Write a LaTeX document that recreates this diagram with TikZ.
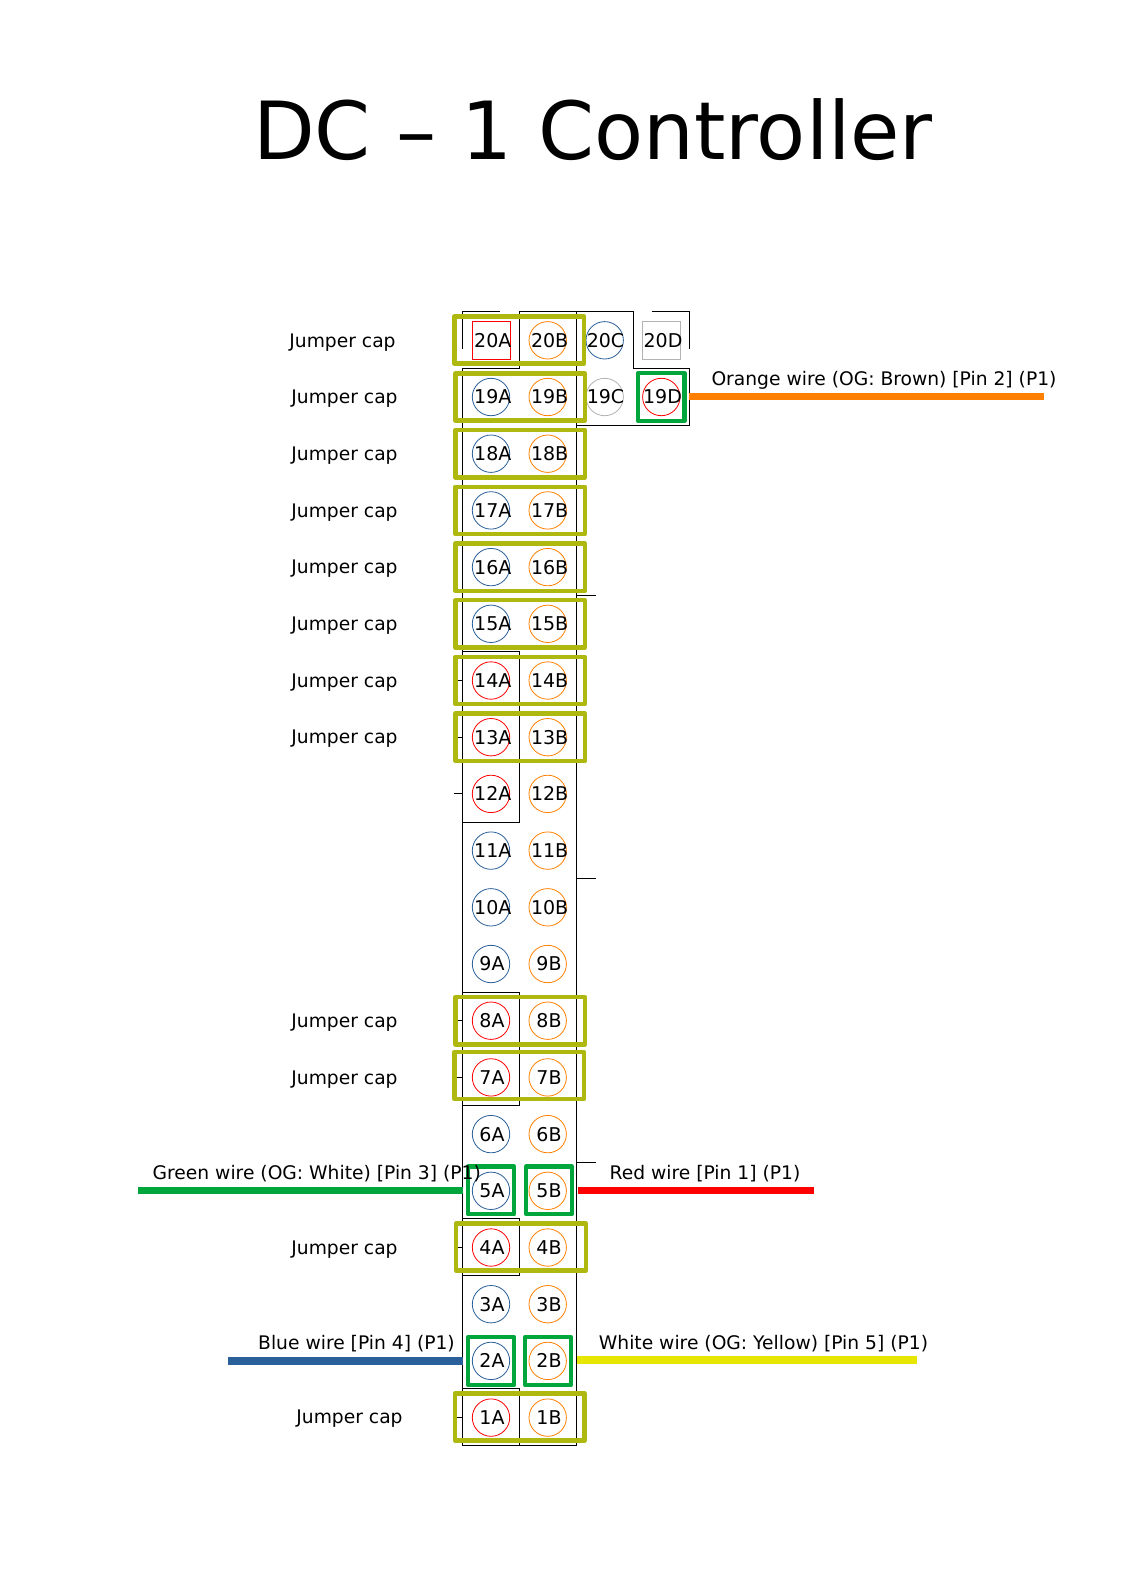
\documentclass[tikz,border=0pt]{standalone}
\usepackage{fontspec}
\setmainfont{DejaVu Sans}
\definecolor{pblue}{HTML}{2A6099}
\definecolor{porange}{HTML}{FF8000}
\definecolor{pred}{HTML}{FF0000}
\definecolor{pgray}{HTML}{B3B3B3}
\definecolor{capcol}{HTML}{AEB80F}
\definecolor{conncol}{HTML}{00A53C}
\definecolor{wyellow}{HTML}{E6E600}
\begin{document}
\begin{tikzpicture}[x=1pt,y=-1pt,
  outline/.style={draw=black,line width=0.9pt},
  pinc/.style={circle,draw=#1,line width=0.8pt,minimum size=37.4pt,inner sep=0pt,outer sep=0pt},
  pins/.style={rectangle,draw=#1,line width=0.8pt,minimum size=38pt,inner sep=0pt,outer sep=0pt},
  pintext/.style={font=\fontsize{19}{19}\selectfont,inner sep=0pt,text=black},
  capbox/.style={rectangle,draw=capcol,line width=4.4pt,line join=round,inner sep=0pt,outer sep=0pt,minimum width=#1,minimum height=47.2pt},
  connbox/.style={rectangle,draw=conncol,line width=4.4pt,line join=round,inner sep=0pt,outer sep=0pt,minimum width=#1,minimum height=47.6pt},
  wire/.style={draw=#1,line width=7.5pt},
  lab/.style={font=\fontsize{18.7}{19}\selectfont,inner sep=0pt,anchor=base,text=black}
]
\useasboundingbox (0,0) rectangle (1123,1587);
\fill[white] (0,0) rectangle (1123,1587);

\node[font=\fontsize{80.2}{84}\selectfont,inner sep=0pt,anchor=base] (title) at (593,159) {DC – 1 Controller};

% outlines
\draw[outline] (500,311.3) -- (462.3,311.3) -- (462.3,349);
\draw[outline] (651.7,311.3) -- (689.3,311.3) -- (689.3,349);
\draw[outline] (462.3,1445) -- (462.3,368.3) -- (519.3,368.3) -- (519.3,311.3) -- (633.3,311.3) -- (633.3,368.3) -- (689.3,368.3) -- (689.3,425) -- (576.7,425);
\draw[outline] (576.7,311.3) -- (576.7,1445) -- (462.3,1445);
\draw[outline] (462.3,651.3) -- (519.3,651.3) -- (519.3,822) -- (462.3,822);
\draw[outline] (462.3,992.3) -- (519.3,992.3) -- (519.3,1105) -- (462.3,1105);
\draw[outline] (462.3,1218) -- (519.3,1218) -- (519.3,1275) -- (462.3,1275);
\draw[outline] (462.3,1388) -- (519.3,1388) -- (519.3,1445);
% ticks
\draw[outline] (576.7,595) -- (595.5,595);
\draw[outline] (576.7,878) -- (595.5,878);
\draw[outline] (576.7,1162) -- (595.5,1162);
\draw[outline] (456,680) -- (462.3,680);
\draw[outline] (456,737) -- (462.3,737);
\draw[outline] (453.5,793.5) -- (462.3,793.5);
\draw[outline] (456,1020) -- (462.3,1020);
\draw[outline] (456,1077) -- (462.3,1077);
\draw[outline] (453.5,1247) -- (462.3,1247);
\draw[outline] (456,1417) -- (462.3,1417);

% pins, column B (all orange)
\foreach \n in {1,...,20}{
  \pgfmathsetmacro{\yy}{340.3+(20-\n)*56.7}
  \node[pinc=porange] (p\n B) at (547.7,\yy) {};
}
% pins, column A
\foreach \n/\c in {19/pblue,18/pblue,17/pblue,16/pblue,15/pblue,14/pred,13/pred,12/pred,11/pblue,10/pblue,9/pblue,8/pred,7/pred,6/pblue,5/pblue,4/pred,3/pblue,2/pblue,1/pred}{
  \pgfmathsetmacro{\yy}{340.3+(20-\n)*56.7}
  \node[pinc=\c] (p\n A) at (491,\yy) {};
}
\node[pins=pred] (p20A) at (491.5,340.3) {};
\node[pinc=pblue] (p20C) at (604.7,340.3) {};
\node[pins=pgray] (p20D) at (661.3,340.3) {};
\node[pinc=pgray] (p19C) at (604.7,397) {};
\node[pinc=pred] (p19D) at (661.3,397) {};

% wire end coordinates
\coordinate (eOrange) at (1044,396.7);
\coordinate (eGreen) at (137.5,1190.5);
\coordinate (eRed) at (813.5,1190.5);
\coordinate (eBlue) at (228,1361);
\coordinate (eYellow) at (916.5,1360);
\draw[wire=porange] (689.3,396.7) -- (eOrange);
\draw[wire=conncol] (463,1190.5) -- (eGreen);
\draw[wire=pred] (577.5,1190.5) -- (eRed);
\draw[wire=pblue] (463,1361) -- (eBlue);
\draw[wire=wyellow] (577,1360) -- (eYellow);

% jumper caps
\foreach \n in {19,18,17,16,15,14,13,8}{
  \pgfmathsetmacro{\yy}{340.3+(20-\n)*56.7}
  \node[capbox=129.5pt] (cap\n) at (520.1,\yy) {};
}
\node[capbox=129.5pt] (cap20) at (519.2,340) {};
\node[capbox=129.5pt] (cap7) at (519.2,1075.5) {};
\node[capbox=129.5pt] (cap4) at (521,1247) {};
\node[capbox=129.5pt] (cap1) at (519.6,1417) {};

% connector frames
\node[connbox=46.5pt] (conn19D) at (661.3,397) {};
\node[connbox=46pt] (conn5A) at (491,1190.4) {};
\node[connbox=45.5pt] (conn5B) at (549,1190.4) {};
\node[connbox=46pt] (conn2A) at (491,1361) {};
\node[connbox=46pt] (conn2B) at (548,1361) {};

% pin labels
\foreach \n in {1,...,20}{
  \pgfmathsetmacro{\xa}{\n>9 ? 492.8 : 492}
  \pgfmathsetmacro{\xb}{\n>9 ? 549.6 : 549}
  \pgfmathsetmacro{\yy}{340.3+(20-\n)*56.7}
  \node[pintext] (t\n A) at (\xa,\yy) {\n A};
  \node[pintext] (t\n B) at (\xb,\yy) {\n B};
}
\node[pintext] (t20C) at (605.5,340.3) {20C};
\node[pintext] (t20D) at (663,340.3) {20D};
\node[pintext] (t19C) at (605.5,397) {19C};
\node[pintext] (t19D) at (662.5,397) {19D};

% jumper labels
\node[lab] (j20) at (342.5,347) {Jumper cap};
\foreach \n in {19,18,17,16,15,14,13,8,7,4}{
  \pgfmathsetmacro{\yy}{347+(20-\n)*56.7}
  \node[lab] (j\n) at (344.5,\yy) {Jumper cap};
}
\node[lab] (j1) at (349.5,1423.5) {Jumper cap};

% wire labels
\node[lab] (lOrange) at (884,385.5) {Orange wire (OG: Brown) [Pin 2] (P1)};
\node[lab] (lGreen) at (316.8,1179) {Green wire (OG: White) [Pin 3] (P1)};
\node[lab] (lRed) at (705,1179) {Red wire [Pin 1] (P1)};
\node[lab] (lBlue) at (356.5,1349.5) {Blue wire [Pin 4] (P1)};
\node[lab] (lWhite) at (763.5,1349.5) {White wire (OG: Yellow) [Pin 5] (P1)};
\end{tikzpicture}
\end{document}
